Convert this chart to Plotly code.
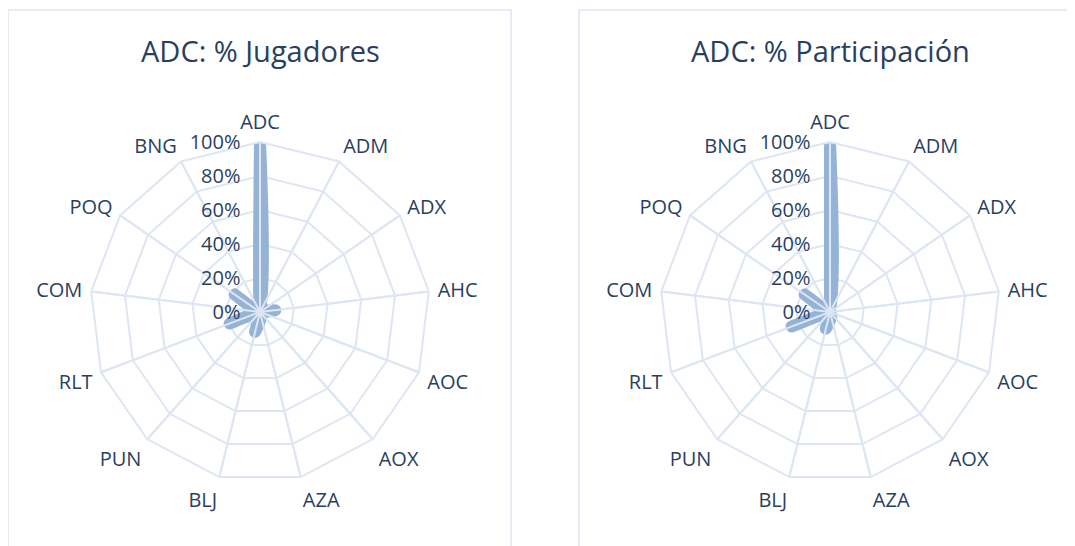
import plotly.graph_objects as go

categories = ["ADC", "ADM", "ADX", "AHC", "AOC", "AOX", "AZA", "BLJ", "PUN", "RLT", "COM", "POQ", "BNG"]
jugadores = [100, 0, 1, 9, 1, 0, 3, 12, 1, 19, 3, 18, 0]
participacion = [100, 0, 0, 1, 0, 0, 3, 10, 1, 24, 3, 18, 0]
radial_ticks = [0, 20, 40, 60, 80, 100]
radial_labels = [f"{v}%" for v in radial_ticks]
titles = ["ADC: % Jugadores", "ADC: % Participación"]

OFF = 8  # page body margin
W, H = 1075 - OFF, 546 - OFF
GRID = "#dde6f2"
BAR = "#95b3d7"
TXT = "#2a3f5f"
FONT = "Open Sans, sans-serif"

centers_x = [260 - OFF, 830 - OFF]
center_y = 312 - OFF
R = 170

fig = go.Figure()


def closed(lst):
    return list(lst) + list(lst[:1])


layout_polars = {}
annotations = []
shapes = []
for i, vals in enumerate([jugadores, participacion]):
    main_name = "polar" if i == 0 else "polar3"
    over_name = "polar2" if i == 0 else "polar4"
    cx = centers_x[i]
    dom_x = [(cx - R) / W, (cx + R) / W]
    cy_b = H - center_y
    dom_y = [(cy_b - R) / H, (cy_b + R) / H]

    fig.add_trace(go.Scatterpolar(
        r=closed(vals), theta=closed(categories), mode="lines", fill="toself",
        fillcolor=BAR, line=dict(color=BAR, width=12, shape="spline", smoothing=0.5),
        subplot=main_name, showlegend=False, hoverinfo="skip"))
    fig.add_trace(go.Scatterpolar(
        r=[0] * len(categories), theta=categories, mode="lines",
        line=dict(width=0), opacity=0, subplot=over_name,
        showlegend=False, hoverinfo="skip"))

    common_ang = dict(direction="clockwise", rotation=90, type="category",
                      categoryorder="array", categoryarray=categories)
    radial_common = dict(range=[0, 100], angle=90, side="counterclockwise",
                         tickmode="array", tickvals=radial_ticks, ticktext=radial_labels,
                         tickangle=90, ticks="outside", ticklen=12,
                         tickcolor="rgba(0,0,0,0)", showline=False,
                         tickfont=dict(size=20, color=TXT, family=FONT))
    layout_polars[main_name] = dict(
        domain=dict(x=dom_x, y=dom_y), bgcolor="rgba(0,0,0,0)", gridshape="linear",
        angularaxis=dict(**common_ang, showgrid=True, gridcolor=GRID, gridwidth=2,
                         showline=True, linecolor=GRID, linewidth=2,
                         ticks="outside", ticklen=4, tickcolor="rgba(0,0,0,0)",
                         tickfont=dict(size=20, color=TXT, family=FONT)),
        radialaxis=dict(**radial_common, showgrid=True, gridcolor=GRID, gridwidth=2,
                        showticklabels=False),
    )
    layout_polars[over_name] = dict(
        domain=dict(x=dom_x, y=dom_y), bgcolor="rgba(0,0,0,0)", gridshape="linear",
        angularaxis=dict(**common_ang, showgrid=True, gridcolor=GRID, gridwidth=2,
                         showline=False, showticklabels=False, ticks=""),
        radialaxis=dict(**radial_common, showgrid=False, showticklabels=True),
    )
    annotations.append(dict(text=titles[i], x=cx / W, y=1 - (50 - OFF) / H,
                            xref="paper", yref="paper",
                            xanchor="center", yanchor="middle", showarrow=False,
                            font=dict(size=29, color=TXT, family=FONT)))

shapes.append(dict(type="rect", xref="paper", yref="paper", x0=(7 - OFF) / W + 0.001,
                   x1=(511 - OFF) / W, y0=1 - (9 - OFF) / H - 0.002, y1=-0.1,
                   line=dict(color=GRID, width=1.5)))
shapes.append(dict(type="rect", xref="paper", yref="paper", x0=(579 - OFF) / W,
                   x1=(1083 - OFF) / W, y0=1 - (9 - OFF) / H - 0.002, y1=-0.1,
                   line=dict(color=GRID, width=1.5)))

fig.update_layout(width=W, height=H, margin=dict(l=0, r=0, t=0, b=0),
                  paper_bgcolor="white", plot_bgcolor="white",
                  annotations=annotations, shapes=shapes, showlegend=False,
                  font=dict(family=FONT, color=TXT), **layout_polars)

fig.write_html("out.html")
